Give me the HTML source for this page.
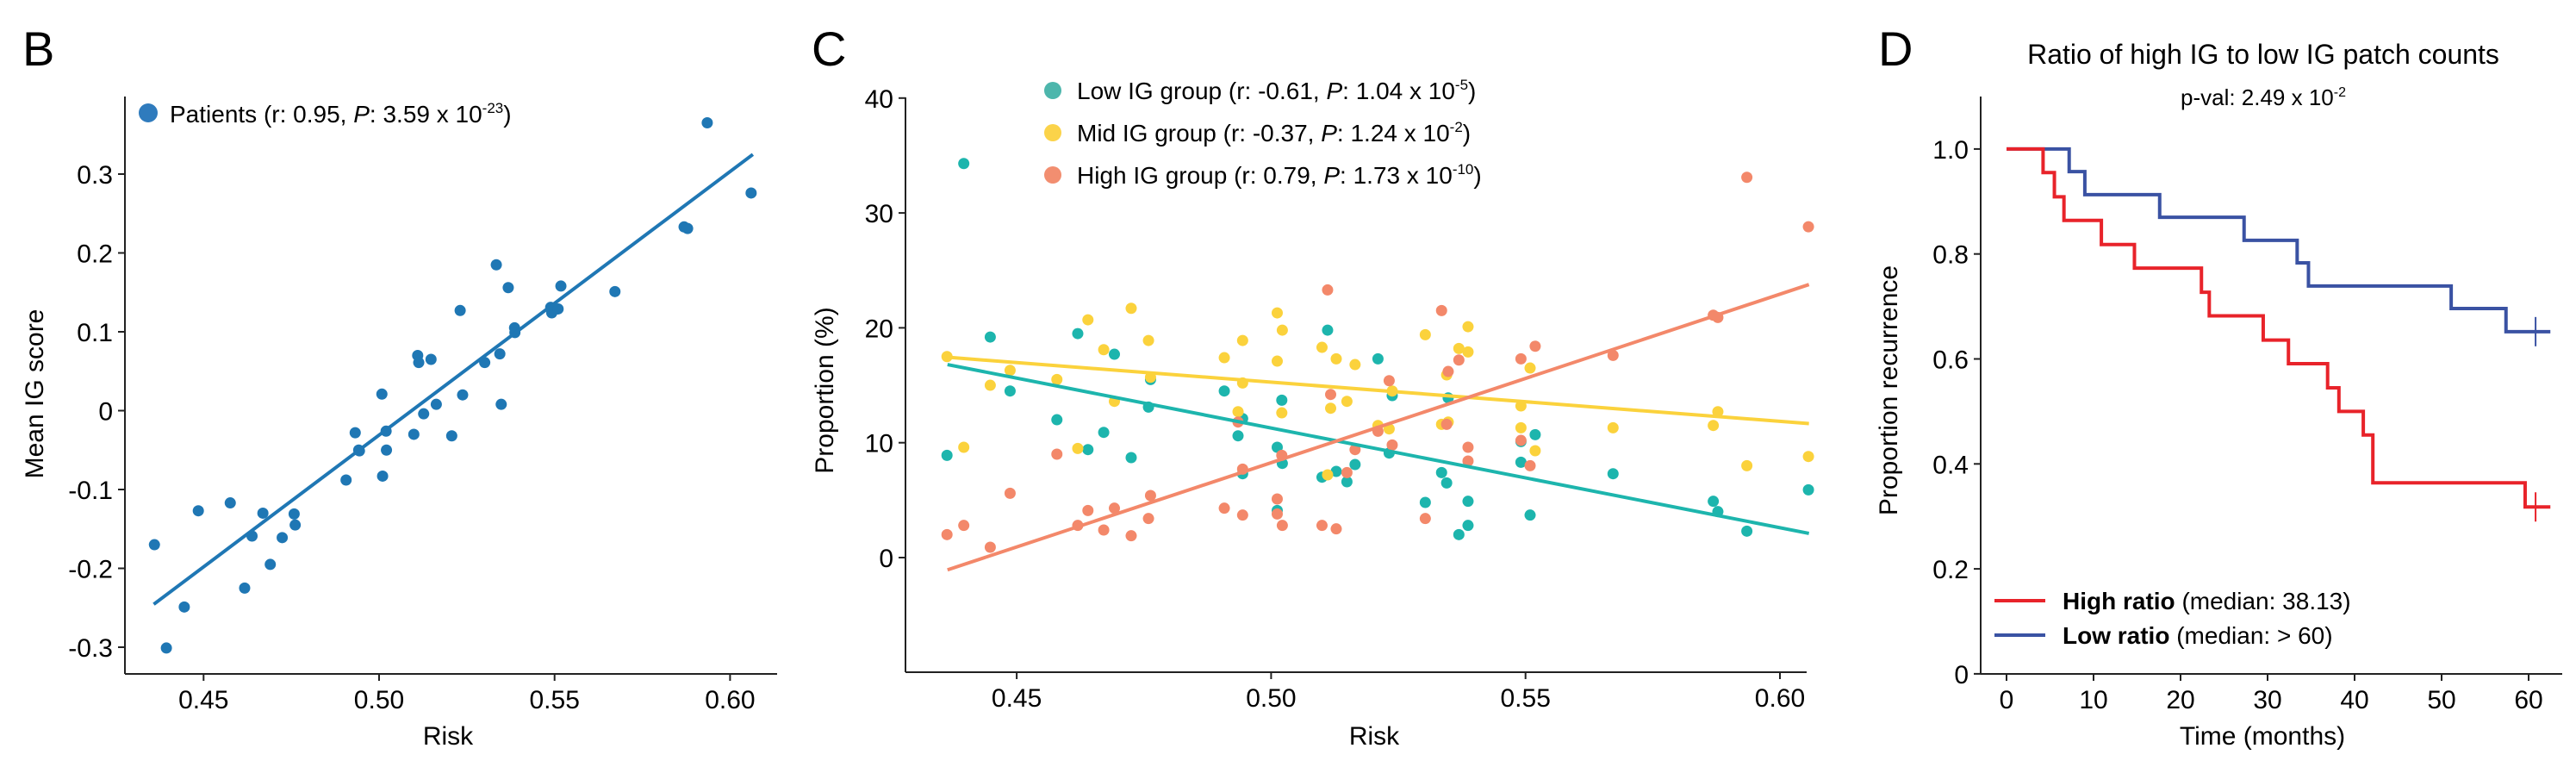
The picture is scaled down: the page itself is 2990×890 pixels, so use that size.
<!DOCTYPE html>
<html><head><meta charset="utf-8"><style>
html,body{margin:0;padding:0;background:#fff;}
svg{display:block;font-family:"Liberation Sans",Arial,sans-serif;}
</style></head><body>
<svg id="fig" width="2990" height="890" viewBox="0 0 2990 890" xmlns="http://www.w3.org/2000/svg">
<rect width="2990" height="890" fill="#fff"/>
<!-- Panel B -->
<g id="pB">
<text x="26" y="76" font-size="56">B</text>
<line x1="145" y1="112" x2="145" y2="782" stroke="#222" stroke-width="2"/>
<line x1="145" y1="782" x2="902" y2="782" stroke="#222" stroke-width="2"/>
<text transform="translate(50,457) rotate(-90)" text-anchor="middle" font-size="30">Mean IG score</text>
<text x="520" y="864" text-anchor="middle" font-size="30">Risk</text>
<circle cx="172" cy="131" r="11" fill="#2f7bbd"/>
<text x="197" y="142" font-size="28">Patients (r: 0.95, <tspan font-style="italic">P</tspan>: 3.59 x 10<tspan dy="-11" font-size="17">-23</tspan><tspan dy="11">)</tspan></text>
</g>
<!-- Panel C -->
<g id="pC">
<text x="942" y="76" font-size="56">C</text>
<line x1="1051" y1="113" x2="1051" y2="780" stroke="#222" stroke-width="2"/>
<line x1="1051" y1="780" x2="2097" y2="780" stroke="#222" stroke-width="2"/>
<text transform="translate(967,453) rotate(-90)" text-anchor="middle" font-size="30">Proportion (%)</text>
<text x="1595" y="864" text-anchor="middle" font-size="30">Risk</text>
<circle cx="1222" cy="105" r="10" fill="#4db6ac"/>
<text x="1250" y="115" font-size="28">Low IG group (r: -0.61, <tspan font-style="italic">P</tspan>: 1.04 x 10<tspan dy="-11" font-size="17">-5</tspan><tspan dy="11">)</tspan></text>
<circle cx="1222" cy="154" r="10" fill="#fbd34a"/>
<text x="1250" y="164" font-size="28">Mid IG group (r: -0.37, <tspan font-style="italic">P</tspan>: 1.24 x 10<tspan dy="-11" font-size="17">-2</tspan><tspan dy="11">)</tspan></text>
<circle cx="1222" cy="203" r="10" fill="#f28e70"/>
<text x="1250" y="213" font-size="28">High IG group (r: 0.79, <tspan font-style="italic">P</tspan>: 1.73 x 10<tspan dy="-11" font-size="17">-10</tspan><tspan dy="11">)</tspan></text>
</g>
<!-- Panel D -->
<g id="pD">
<text x="2180" y="76" font-size="56">D</text>
<text x="2627" y="74" text-anchor="middle" font-size="32">Ratio of high IG to low IG patch counts</text>
<text x="2627" y="122" text-anchor="middle" font-size="26">p-val: 2.49 x 10<tspan dy="-10" font-size="16">-2</tspan></text>
<line x1="2299" y1="112" x2="2299" y2="782" stroke="#222" stroke-width="2"/>
<line x1="2299" y1="782" x2="2974" y2="782" stroke="#222" stroke-width="2"/>
<text transform="translate(2202,453) rotate(-90)" text-anchor="middle" font-size="30">Proportion recurrence</text>
<text x="2626" y="864" text-anchor="middle" font-size="30">Time (months)</text>
<line x1="2315" y1="697" x2="2374" y2="697" stroke="#e8232a" stroke-width="4"/>
<text x="2394" y="707" font-size="28"><tspan font-weight="bold">High ratio</tspan> (median: 38.13)</text>
<line x1="2315" y1="737" x2="2374" y2="737" stroke="#3a52a3" stroke-width="4"/>
<text x="2394" y="747" font-size="28"><tspan font-weight="bold">Low ratio</tspan> (median: &gt; 60)</text>
</g>
</svg>
<script>
const NS="http://www.w3.org/2000/svg";
// Panel B data
const bRisk=[0.436,0.4394,0.4445,0.4485,0.4576,0.4617,0.4638,0.4669,0.469,0.4724,0.4758,0.4761,0.4906,0.4932,0.4942,0.4944,0.5008,0.501,0.502,0.5021,0.5099,0.511,0.5113,0.5127,0.5148,0.5163,0.5207,0.5231,0.5238,0.5301,0.5334,0.5344,0.5348,0.5368,0.5386,0.5387,0.5489,0.5492,0.551,0.5518,0.5672,0.5869,0.5879,0.5935,0.606];
const bScore=[-0.170,-0.301,-0.249,-0.127,-0.117,-0.225,-0.159,-0.130,-0.195,-0.161,-0.131,-0.145,-0.088,-0.028,-0.050,-0.051,0.021,-0.083,-0.026,-0.050,-0.030,0.070,0.061,-0.004,0.065,0.008,-0.032,0.127,0.020,0.061,0.185,0.072,0.008,0.156,0.105,0.099,0.131,0.124,0.129,0.158,0.151,0.233,0.231,0.365,0.276];
const bFit=[-1.702,3.342];
const bFitRange=[0.4358,0.6065];
const bXTicks=[0.45,0.50,0.55,0.60];
const bXTickLabels=["0.45","0.50","0.55","0.60"];
const bYTicks=[-0.3,-0.2,-0.1,0,0.1,0.2,0.3];
const bYTickLabels=["-0.3","-0.2","-0.1","0","0.1","0.2","0.3"];
// Panel C data
const cRiskLow=[0.4363,0.4396,0.4448,0.4487,0.4579,0.462,0.464,0.4671,0.4692,0.4725,0.4759,0.4763,0.4908,0.4935,0.4944,0.4944,0.5012,0.5012,0.5021,0.5022,0.51,0.5111,0.5128,0.5149,0.5165,0.521,0.5232,0.5238,0.5303,0.5335,0.5345,0.5348,0.5369,0.5387,0.5387,0.5491,0.5491,0.5509,0.5519,0.5672,0.5869,0.5878,0.5935,0.6056];
const cPropLow=[8.9,34.3,19.2,14.5,12.0,19.5,9.4,10.9,17.7,8.7,13.1,15.5,14.5,10.6,12.1,7.3,9.6,4.1,13.7,8.2,7.0,19.8,7.5,6.6,8.1,17.3,9.1,14.1,4.8,7.4,6.5,13.9,2.0,2.8,4.9,10.1,8.3,3.7,10.7,7.3,4.9,4.0,2.3,5.9];
const cRiskMid=[0.4363,0.4396,0.4448,0.4487,0.4579,0.462,0.464,0.4671,0.4692,0.4725,0.4759,0.4763,0.4908,0.4935,0.4944,0.4944,0.5012,0.5012,0.5021,0.5022,0.51,0.5111,0.5117,0.5128,0.5149,0.5165,0.521,0.5232,0.5238,0.5303,0.5335,0.5345,0.5348,0.5369,0.5387,0.5387,0.5491,0.5491,0.5509,0.5519,0.5672,0.5869,0.5878,0.5935,0.6056];
const cPropMid=[17.5,9.6,15.0,16.3,15.5,9.5,20.7,18.1,13.6,21.7,18.9,15.7,17.4,12.7,18.9,15.2,21.3,17.1,12.6,19.8,18.3,7.2,13.0,17.3,13.6,16.8,11.5,11.2,14.5,19.4,11.6,15.9,11.8,18.2,20.1,17.9,11.3,13.2,16.5,9.3,11.3,11.5,12.7,8.0,8.8];
const cRiskHigh=[0.4363,0.4396,0.4448,0.4487,0.4579,0.462,0.464,0.4671,0.4692,0.4725,0.4759,0.4763,0.4908,0.4935,0.4944,0.4944,0.5012,0.5012,0.5021,0.5022,0.51,0.5111,0.5117,0.5128,0.5149,0.5165,0.521,0.5232,0.5238,0.5303,0.5335,0.5345,0.5348,0.5369,0.5387,0.5387,0.5491,0.5491,0.5509,0.5519,0.5672,0.5869,0.5878,0.5935,0.6056];
const cPropHigh=[2.0,2.8,0.9,5.6,9.0,2.8,4.1,2.4,4.3,1.9,3.4,5.4,4.3,11.8,3.7,7.7,5.1,3.8,8.9,2.8,2.8,23.3,14.2,2.5,7.4,9.4,11.0,15.4,9.8,3.4,21.5,11.6,16.2,17.2,9.6,8.4,17.3,10.2,8.0,18.4,17.6,21.1,20.9,33.1,28.8];
const cFitLow=[54.68,-86.8];
const cFitMid=[32.32,-34.1];
const cFitHigh=[-65.09,146.7];
const cFitRange=[0.4364,0.6057];
const cXTicks=[0.45,0.50,0.55,0.60];
const cXTickLabels=["0.45","0.50","0.55","0.60"];
const cYTicks=[0,10,20,30,40];
const cYTickLabels=["0","10","20","30","40"];
// Panel D data
const dHighTimes=[4.2,5.5,6.6,10.9,14.7,22.4,23.3,29.5,32.4,36.9,38.2,41.0,42.1,59.6];
const dHighSurv=[0.955,0.909,0.864,0.818,0.773,0.727,0.682,0.636,0.591,0.545,0.5,0.455,0.364,0.318];
const dLowTimes=[7.2,9.0,17.6,27.3,33.4,34.7,51.1,57.4];
const dLowSurv=[0.957,0.913,0.870,0.826,0.783,0.739,0.696,0.652];
const dCensor=[60.8];
const dEnd=[62.5];
const dXTicks=[0,10,20,30,40,50,60];
const dXTickLabels=["0","10","20","30","40","50","60"];
const dYTicks=[0,0.2,0.4,0.6,0.8,1.0];
const dYTickLabels=["0","0.2","0.4","0.6","0.8","1.0"];

const xB=v=>440+(v-0.5)*4074, yB=v=>476.5-v*915;
const xC=v=>1475.4+(v-0.5)*5906, yC=v=>647-v*13.33;
const xD=t=>2329+t*10.1, yD=v=>781.9-v*609;

function mk(tag,attrs,parent){const e=document.createElementNS(NS,tag);for(const k in attrs)e.setAttribute(k,attrs[k]);parent.appendChild(e);return e;}
const gB=document.getElementById('pB'),gC=document.getElementById('pC'),gD=document.getElementById('pD');

function ticks(g,prefix,xt,xl,yt,yl,xs,ys,axX,axY){
  xt.forEach((v,i)=>{
    const t=mk('line',{x1:xs(v),x2:xs(v),y1:axY,y2:axY+8,stroke:'#222','stroke-width':2},g);
    
    
    const l=mk('text',{x:xs(v),y:axY+40,'text-anchor':'middle','font-size':30},g);
    l.textContent=xl[i];
    
    
  });
  yt.forEach((v,i)=>{
    const t=mk('line',{x1:axX-8,x2:axX,y1:ys(v),y2:ys(v),stroke:'#222','stroke-width':2},g);
    
    
    const l=mk('text',{x:axX-14,y:ys(v)+11,'text-anchor':'end','font-size':30},g);
    l.textContent=yl[i];
    
    
  });
}
ticks(gB,'b',bXTicks,bXTickLabels,bYTicks,bYTickLabels,xB,yB,145,782);
ticks(gC,'c',cXTicks,cXTickLabels,cYTicks,cYTickLabels,xC,yC,1051,780);
ticks(gD,'d',dXTicks,dXTickLabels,dYTicks,dYTickLabels,xD,yD,2299,782);

// B points
bRisk.forEach((r,i)=>{
  const c=mk('circle',{cx:xB(r),cy:yB(bScore[i]),r:6.5,fill:'#1f77b4'},gB);
  
  
});
const bl=mk('line',{x1:xB(bFitRange[0]),y1:yB(bFit[0]+bFit[1]*bFitRange[0]),x2:xB(bFitRange[1]),y2:yB(bFit[0]+bFit[1]*bFitRange[1]),stroke:'#1f77b4','stroke-width':4},gB);



// C points and lines
const groups=[['low',cRiskLow,cPropLow,cFitLow,'#1db5ad'],['mid',cRiskMid,cPropMid,cFitMid,'#fbd23c'],['high',cRiskHigh,cPropHigh,cFitHigh,'#f3886a']];
groups.forEach(([n,rs,ps,f,col])=>{
  rs.forEach((r,i)=>{
    const c=mk('circle',{cx:xC(r),cy:yC(ps[i]),r:6.5,fill:col},gC);
    
    
  });
});
groups.forEach(([n,rs,ps,f,col])=>{
  const l=mk('line',{x1:xC(cFitRange[0]),y1:yC(f[0]+f[1]*cFitRange[0]),x2:xC(cFitRange[1]),y2:yC(f[0]+f[1]*cFitRange[1]),stroke:col,'stroke-width':4},gC);
  
  
});

// D KM curves
function km(times,surv,col,name){
  let d='M'+xD(0)+','+yD(1);let s=1;
  times.forEach((t,i)=>{d+=' H'+xD(t)+' V'+yD(surv[i]);s=surv[i];});
  d+=' H'+xD(dEnd[0]);
  const p=mk('path',{d:d,fill:'none',stroke:col,'stroke-width':4},gD);
  
  
  const c=mk('line',{x1:xD(dCensor[0]),x2:xD(dCensor[0]),y1:yD(s)-17,y2:yD(s)+17,stroke:col,'stroke-width':2},gD);
  
  
}
km(dLowTimes,dLowSurv,'#3a52a3','low-ratio');
km(dHighTimes,dHighSurv,'#e8232a','high-ratio');
</script>
</body></html>
